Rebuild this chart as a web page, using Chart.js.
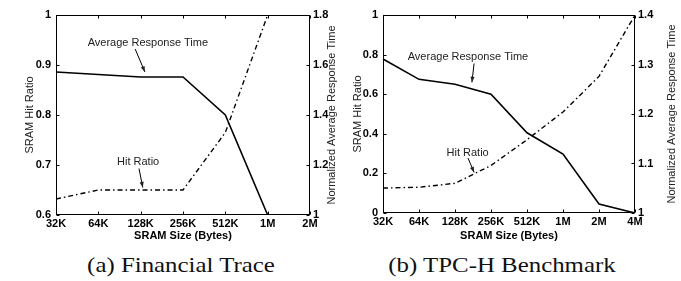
<!DOCTYPE html>
<html lang="en">
<head>
    <meta charset="UTF-8">
    <title>SRAM Size vs Hit Ratio and Response Time</title>
    <script src="https://cdn.jsdelivr.net/npm/chart.js"></script>
    <style>
        body { margin: 0; background: #fff; width: 681px; height: 281px; position: relative; overflow: hidden; }
        canvas { position: absolute; top: 0; }
        .caption { position: absolute; top: 252px; width: 300px; font-family: 'Liberation Serif', 'Times New Roman', serif; font-size: 22px; line-height: 26px; color: #111; text-align: center; transform: scaleX(1.13); transform-origin: center; }
    </style>
</head>
<body>
    <canvas id="chartA" width="340" height="245" style="left:0"></canvas>
    <canvas id="chartB" width="341" height="245" style="left:340px"></canvas>
    <div class="caption" style="left:31px">(a) Financial Trace</div>
    <div class="caption" style="left:352px">(b) TPC-H Benchmark</div>
    <script>
        // data
        const sizesA = ['32K', '64K', '128K', '256K', '512K', '1M', '2M'];
        const hitA = [0.632, 0.65, 0.65, 0.65, 0.765, 1.0, 1.0];
        const respA = [1.572, 1.562, 1.552, 1.552, 1.40, 1.0, 1.0];

        const sizesB = ['32K', '64K', '128K', '256K', '512K', '1M', '2M', '4M'];
        const hitB = [0.126, 0.13, 0.15, 0.24, 0.37, 0.51, 0.69, 1.0];
        const respB = [1.311, 1.27, 1.26, 1.24, 1.162, 1.119, 1.018, 1.0];

        const SANS = "'Liberation Sans', Arial, Helvetica, sans-serif";

        // labels with arrows, in data units (x = category index, y = left axis)
        const notesA = [
            { text: 'Average Response Time', x: 2.17, y: 0.944, from: [1.87, 0.932], to: [2.1, 0.886] },
            { text: 'Hit Ratio', x: 1.94, y: 0.706, from: [1.96, 0.693], to: [2.05, 0.655] }
        ];
        const notesB = [
            { text: 'Average Response Time', x: 2.36, y: 0.788, from: [2.53, 0.755], to: [2.47, 0.66] },
            { text: 'Hit Ratio', x: 2.35, y: 0.303, from: [2.36, 0.278], to: [2.53, 0.205] }
        ];

        // matlab style numbers: 1, 0.9, 1.2 ...
        const fmt = v => String(+v.toFixed(2));

        const boxPlugin = {
            id: 'box',
            afterDraw(chart, args, opts) {
                const { ctx, chartArea: a, scales } = chart;
                ctx.save();
                ctx.strokeStyle = '#000';
                ctx.lineWidth = 1;
                const L = Math.round(a.left) + 0.5, R = Math.round(a.right) - 0.5;
                const T = Math.round(a.top) + 0.5, B = Math.round(a.bottom) - 0.5;
                ctx.strokeRect(L, T, R - L, B - T);
                ctx.beginPath();
                scales.x.ticks.forEach((t, i) => {
                    const px = Math.round(scales.x.getPixelForTick(i)) + 0.5;
                    ctx.moveTo(px, B); ctx.lineTo(px, B - 3);
                    ctx.moveTo(px, T); ctx.lineTo(px, T + 3);
                });
                scales.y.ticks.forEach((t, i) => {
                    const py = Math.round(scales.y.getPixelForTick(i)) + 0.5;
                    ctx.moveTo(L, py); ctx.lineTo(L + 3, py);
                });
                scales.y2.ticks.forEach((t, i) => {
                    const py = Math.round(scales.y2.getPixelForTick(i)) + 0.5;
                    ctx.moveTo(R, py); ctx.lineTo(R - 3, py);
                });
                ctx.stroke();

                // right axis title, reading bottom to top
                ctx.fillStyle = '#222';
                ctx.font = '11px ' + SANS;
                ctx.textAlign = 'center';
                ctx.textBaseline = 'middle';
                ctx.save();
                ctx.translate(chart.width - opts.titleGap, (a.top + a.bottom) / 2);
                ctx.rotate(-Math.PI / 2);
                ctx.fillText('Normalized Average Response Time', 0, 0);
                ctx.restore();

                // annotations
                (opts.notes || []).forEach(n => {
                    const xs = scales.x, ys = scales.y;
                    ctx.fillText(n.text, xs.getPixelForValue(n.x), ys.getPixelForValue(n.y));
                    const x0 = xs.getPixelForValue(n.from[0]), y0 = ys.getPixelForValue(n.from[1]);
                    const x1 = xs.getPixelForValue(n.to[0]), y1 = ys.getPixelForValue(n.to[1]);
                    ctx.beginPath();
                    ctx.moveTo(x0, y0); ctx.lineTo(x1, y1);
                    ctx.stroke();
                    const ang = Math.atan2(y1 - y0, x1 - x0);
                    ctx.beginPath();
                    ctx.moveTo(x1, y1);
                    ctx.lineTo(x1 - 6 * Math.cos(ang - 0.35), y1 - 6 * Math.sin(ang - 0.35));
                    ctx.lineTo(x1 - 6 * Math.cos(ang + 0.35), y1 - 6 * Math.sin(ang + 0.35));
                    ctx.closePath();
                    ctx.fill();
                });
                ctx.restore();
            }
        };

        function makeChart(id, labels, hit, resp, yMin, yStep, y2Min, y2Max, y2Step, widths, notes, titleGap) {
            const tickFont = { family: SANS, size: 11, weight: 'bold' };
            new Chart(document.getElementById(id), {
                type: 'line',
                data: {
                    labels: labels,
                    datasets: [
                        {
                            label: 'Hit Ratio',
                            data: hit,
                            yAxisID: 'y',
                            borderColor: '#000',
                            borderWidth: 1.4,
                            borderDash: [5, 3, 1.5, 3],
                            pointRadius: 0,
                            tension: 0
                        },
                        {
                            label: 'Average Response Time',
                            data: resp,
                            yAxisID: 'y2',
                            borderColor: '#000',
                            borderWidth: 1.6,
                            pointRadius: 0,
                            tension: 0
                        }
                    ]
                },
                options: {
                    responsive: false,
                    animation: false,
                    devicePixelRatio: 1,
                    layout: { padding: { top: 15 } },
                    plugins: {
                        legend: { display: false },
                        tooltip: { enabled: false },
                        box: { notes: notes, titleGap: titleGap }
                    },
                    scales: {
                        x: {
                            offset: false,
                            grid: { display: false, drawTicks: false },
                            border: { display: false },
                            ticks: { color: '#000', font: tickFont, padding: 2, maxRotation: 0, autoSkip: false },
                            title: { display: true, text: 'SRAM Size (Bytes)', color: '#000', font: tickFont, padding: { top: 0, bottom: 2 } },
                            afterFit: s => { s.height = widths[2]; }
                        },
                        y: {
                            position: 'left',
                            min: yMin, max: 1,
                            grid: { display: false, drawTicks: false },
                            border: { display: false },
                            ticks: { stepSize: yStep, color: '#000', font: tickFont, padding: 5, callback: fmt },
                            title: { display: true, text: 'SRAM Hit Ratio', color: '#222', font: { family: SANS, size: 11 }, padding: { top: widths[3], bottom: 0 } },
                            afterFit: s => { s.width = widths[0]; }
                        },
                        y2: {
                            position: 'right',
                            min: y2Min, max: y2Max,
                            grid: { display: false, drawTicks: false },
                            border: { display: false },
                            ticks: { stepSize: y2Step, color: '#000', font: tickFont, padding: 3, callback: fmt },
                            afterFit: s => { s.width = widths[1]; }
                        }
                    }
                },
                plugins: [boxPlugin]
            });
        }

        makeChart('chartA', sizesA, hitA, respA, 0.6, 0.1, 1, 1.8, 0.2, [56, 30, 30, 23], notesA, 8);
        makeChart('chartB', sizesB, hitB, respB, 0, 0.2, 1, 1.4, 0.1, [43, 46, 32, 11], notesB, 9);
    </script>
</body>
</html>
